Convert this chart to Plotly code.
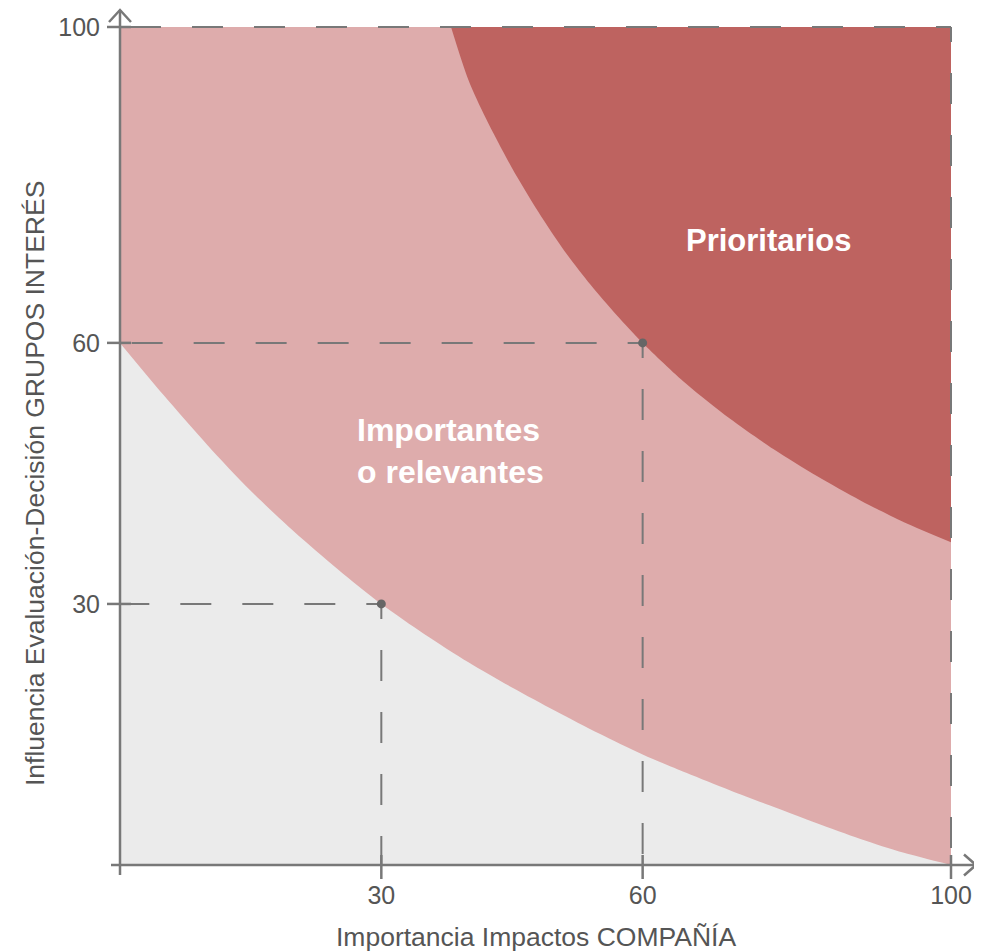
import plotly.graph_objects as go

# ---------------- data ----------------
X_END = 95.4          # right end of the x axis (labelled "100")
Y_END = 96.3          # top end of the y axis (labelled "100")
x_tick_vals = [30, 60, X_END]
y_tick_vals = [30, 60, Y_END]
tick_text = ["30", "60", "100"]

# lower boundary (grey | light pink)
low_x = [0, 5, 10, 15, 20, 25, 30, 35, 40, 45, 50, 55, 60, 65, 70, 75, 80, 85, 90, 95.4]
low_y = [60.0, 54.0, 48.3, 43.0, 38.3, 34.0, 30.0, 26.5, 23.3, 20.4, 17.7, 15.1, 12.7, 10.6, 8.6, 6.7, 4.8, 3.0, 1.4, 0.0]

# upper boundary (light pink | dark red)
up_x = [38.0, 40, 42, 45, 48, 51, 54, 57, 60, 65, 70, 75, 80, 85, 90, 95.4]
up_y = [96.3, 90.2, 85.8, 80.1, 75.1, 70.6, 66.7, 63.2, 60.0, 55.3, 51.3, 47.8, 44.7, 41.9, 39.4, 37.1]

# threshold points
guide_vals = [30, 60]

x_title = "Importancia Impactos COMPAÑÍA"
y_title = "Influencia Evaluación-Decisión GRUPOS INTERÉS"
label_top = "Prioritarios"
label_mid = "Importantes<br>o relevantes"

# ---------------- style ----------------
GREY_BG = "#EBEBEB"
PINK = "#DEACAC"
DARK = "#BE6360"
AX = "#787878"
TXT = "#555555"
FONT = "Liberation Sans"
DASH = ",".join(["15px"] + ["31px"] * 29)

fig = go.Figure()

# light pink region: between the top edge and the lower curve
fig.add_trace(go.Scatter(
    x=[0, X_END], y=[Y_END, Y_END], mode="lines", line=dict(width=0),
    hoverinfo="skip", showlegend=False))
fig.add_trace(go.Scatter(
    x=low_x, y=low_y, fill="tonexty", fillcolor=PINK, mode="lines",
    line=dict(width=0, shape="spline", smoothing=0.8),
    hoverinfo="skip", showlegend=False))

# dark red region: between the top edge and the upper curve
fig.add_trace(go.Scatter(
    x=[up_x[0], X_END], y=[Y_END, Y_END], mode="lines", line=dict(width=0),
    hoverinfo="skip", showlegend=False))
fig.add_trace(go.Scatter(
    x=up_x, y=up_y, fill="tonexty", fillcolor=DARK, mode="lines",
    line=dict(width=0, shape="spline", smoothing=0.8),
    hoverinfo="skip", showlegend=False))

# dashed guides from the threshold points to the axes
for v in guide_vals:
    fig.add_trace(go.Scatter(x=[v, 0], y=[v, v], mode="lines",
                             line=dict(color=AX, width=2, dash=DASH),
                             hoverinfo="skip", showlegend=False))
    fig.add_trace(go.Scatter(x=[v, v], y=[v, 0], mode="lines",
                             line=dict(color=AX, width=2, dash=DASH),
                             hoverinfo="skip", showlegend=False))

# threshold dots
fig.add_trace(go.Scatter(x=guide_vals, y=guide_vals, mode="markers",
                         marker=dict(color="#666666", size=9),
                         hoverinfo="skip", showlegend=False))

shapes = []
# dashed top and right frame lines
shapes.append(dict(type="line", xref="paper", yref="paper", x0=1, y0=1, x1=0, y1=1,
                   line=dict(color=AX, width=2, dash=DASH)))
shapes.append(dict(type="line", xref="paper", yref="paper", x0=1, y0=1, x1=1, y1=0,
                   line=dict(color=AX, width=2, dash=DASH)))
# x axis line
shapes.append(dict(type="line", xref="paper", yref="paper", xsizemode="pixel", xanchor=0,
                   x0=-9, x1=856, y0=0, y1=0, line=dict(color=AX, width=2.5)))
# y axis line
shapes.append(dict(type="line", xref="paper", yref="paper", ysizemode="pixel", yanchor=0,
                   y0=-10, y1=855, x0=0, x1=0, line=dict(color=AX, width=2.5)))
# x ticks (crossing the axis)
for v in x_tick_vals:
    shapes.append(dict(type="line", xref="paper", yref="paper", ysizemode="pixel", yanchor=0,
                       x0=v / X_END, x1=v / X_END, y0=-14, y1=10,
                       line=dict(color=AX, width=2.5)))
# y ticks (crossing the axis)
for v in y_tick_vals:
    shapes.append(dict(type="line", xref="paper", yref="paper", xsizemode="pixel", xanchor=0,
                       y0=v / Y_END, y1=v / Y_END, x0=-13, x1=11,
                       line=dict(color=AX, width=2.5)))
# arrow heads
shapes.append(dict(type="path", xref="paper", yref="paper", xsizemode="pixel", ysizemode="pixel",
                   xanchor=0, yanchor=1, path="M-11,5 L0,17 L11,5",
                   line=dict(color=AX, width=2.5)))
shapes.append(dict(type="path", xref="paper", yref="paper", xsizemode="pixel", ysizemode="pixel",
                   xanchor=1, yanchor=0, path="M13,10.5 L25,0 L13,-10.5",
                   line=dict(color=AX, width=2.5)))

annotations = [
    dict(text=x_title, xref="paper", yref="paper", x=0.5, y=0, yshift=-72,
         xanchor="center", yanchor="middle", showarrow=False,
         font=dict(family=FONT, size=26.5, color=TXT)),
    dict(text=y_title, xref="paper", yref="paper", x=0, y=0.5, xshift=-85, yshift=-38,
         xanchor="center", yanchor="middle", textangle=-90, showarrow=False,
         font=dict(family=FONT, size=26.5, color=TXT)),
    dict(text="<b>" + label_top + "</b>", xref="x", yref="y", x=74.4, y=71.8,
         xanchor="center", yanchor="middle", showarrow=False,
         font=dict(family=FONT, size=31, color="white")),
    dict(text="<b>" + label_mid + "</b>", xref="x", yref="y", x=27.0, y=47.6,
         xanchor="left", yanchor="middle", align="left", showarrow=False,
         font=dict(family=FONT, size=32, color="white")),
]

# the page places the figure 8px from the top-left corner
fig.update_layout(
    width=974, height=943,
    margin=dict(l=112, r=31, t=19, b=86, autoexpand=False),
    paper_bgcolor="white", plot_bgcolor=GREY_BG,
    shapes=shapes, annotations=annotations,
    showlegend=False,
    font=dict(family=FONT, color=TXT),
)
fig.update_xaxes(range=[0, X_END], showgrid=False, zeroline=False, showline=False,
                 tickvals=x_tick_vals, ticktext=tick_text, ticks="", automargin=False,
                 ticklabelstandoff=13, tickfont=dict(family=FONT, size=25, color=TXT),
                 fixedrange=True)
fig.update_yaxes(range=[0, Y_END], showgrid=False, zeroline=False, showline=False,
                 tickvals=y_tick_vals, ticktext=tick_text, ticks="", automargin=False,
                 ticklabelstandoff=19, tickfont=dict(family=FONT, size=25, color=TXT),
                 fixedrange=True)

fig.write_html("out.html")
